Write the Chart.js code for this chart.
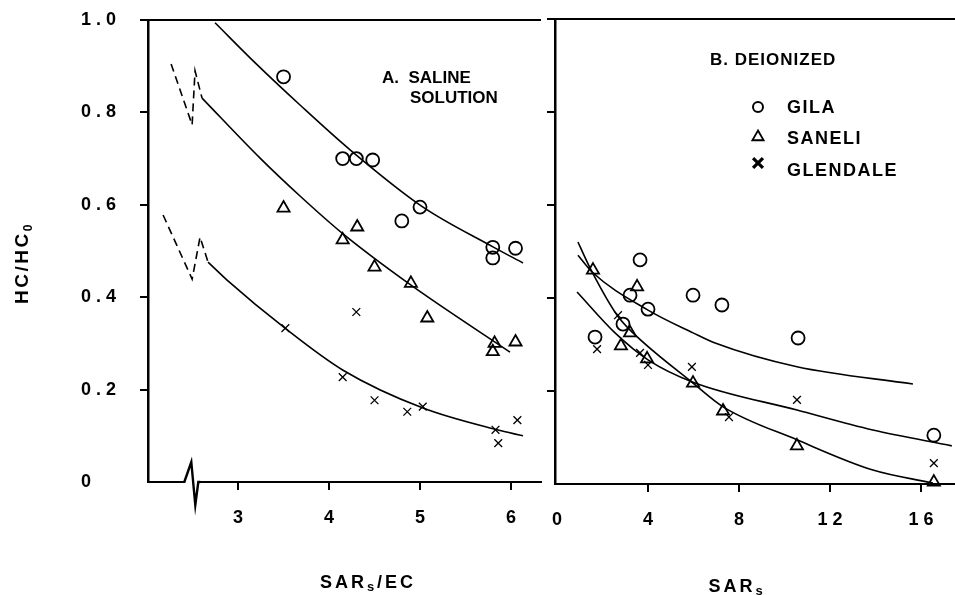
<!DOCTYPE html>
<html>
<head>
<meta charset="utf-8">
<script src="https://cdn.jsdelivr.net/npm/chart.js@4.4.0/dist/chart.umd.min.js"></script>
<style>
html, body { margin: 0; padding: 0; background: #fff; }
#wrap { position: relative; width: 955px; height: 595px; overflow: hidden; }
#left { position: absolute; left: 0; top: 0; }
#right { position: absolute; left: 530px; top: 0; }
</style>
</head>
<body>
<div id="wrap">
  <canvas id="left" width="548" height="595"></canvas>
  <canvas id="right" width="425" height="595"></canvas>
</div>
<script>
// ---- shared y axis ----
const yTicks = [0, 0.2, 0.4, 0.6, 0.8, 1.0];
const yTickLabels = ['0', '0.2', '0.4', '0.6', '0.8', '1.0'];

// ---- A. saline solution, x = SARs/EC ----
const salTicksX = [3, 4, 5, 6];
const gilaSalX = [3.5, 4.15, 4.3, 4.48, 4.8, 5.0, 5.8, 5.8, 6.05];
const gilaSalY = [0.877, 0.70, 0.70, 0.697, 0.565, 0.595, 0.508, 0.485, 0.506];
const saneliSalX = [3.5, 4.15, 4.31, 4.5, 4.9, 5.08, 5.82, 5.8, 6.05];
const saneliSalY = [0.593, 0.524, 0.552, 0.465, 0.43, 0.355, 0.30, 0.282, 0.303];
const glendaleSalX = [3.52, 4.3, 4.15, 4.5, 4.86, 5.03, 5.83, 5.86, 6.07];
const glendaleSalY = [0.333, 0.368, 0.227, 0.177, 0.152, 0.163, 0.113, 0.084, 0.134];

// fitted curves
const gilaSalFitX = [2.747, 3.2, 3.681, 4.231, 5.033, 5.802, 6.132];
const gilaSalFitY = [0.994, 0.905, 0.816, 0.719, 0.595, 0.509, 0.474];
const saneliSalBreakX = [2.264, 2.495, 2.527, 2.604];
const saneliSalBreakY = [0.905, 0.773, 0.890, 0.831];
const saneliSalFitX = [2.604, 3.242, 3.681, 4.154, 4.901, 5.989];
const saneliSalFitY = [0.831, 0.701, 0.619, 0.537, 0.426, 0.281];
const glendaleSalBreakX = [2.176, 2.495, 2.582, 2.670];
const glendaleSalBreakY = [0.578, 0.439, 0.530, 0.476];
const glendaleSalFitX = [2.670, 2.879, 3.516, 4.154, 5.033, 5.846, 6.132];
const glendaleSalFitY = [0.476, 0.437, 0.333, 0.242, 0.160, 0.113, 0.100];
const salAxisBreakX = 2.42;

// ---- B. deionized, x = SARs ----
const deiTicksX = [0, 4, 8, 12, 16];
const deiTickLabels = ['0', '4', '8', '12', '16'];
const gilaDeiX = [1.67, 3.21, 3.65, 2.90, 4.0, 5.98, 7.25, 10.6, 16.57];
const gilaDeiY = [0.316, 0.406, 0.482, 0.344, 0.376, 0.406, 0.385, 0.314, 0.105];
const saneliDeiX = [1.58, 3.52, 3.21, 2.81, 3.96, 5.98, 7.30, 10.55, 16.57];
const saneliDeiY = [0.46, 0.424, 0.325, 0.297, 0.269, 0.217, 0.157, 0.082, 0.004];
const glendaleDeiX = [1.76, 2.68, 3.65, 4.0, 5.93, 7.56, 10.55, 16.57];
const glendaleDeiY = [0.29, 0.363, 0.282, 0.256, 0.252, 0.144, 0.181, 0.045];

const gilaDeiFitX = [0.92, 1.54, 4.0, 5.98, 6.95, 10.55, 15.65];
const gilaDeiFitY = [0.492, 0.456, 0.374, 0.325, 0.303, 0.252, 0.215];
const saneliDeiFitX = [0.92, 1.54, 2.64, 3.34, 5.98, 7.30, 10.55, 13.89, 16.53];
const saneliDeiFitY = [0.520, 0.456, 0.363, 0.325, 0.217, 0.166, 0.095, 0.030, 0.002];
const glendaleDeiFitX = [0.88, 2.55, 4.0, 5.98, 10.55, 13.89, 17.36];
const glendaleDeiFitY = [0.413, 0.325, 0.267, 0.219, 0.159, 0.116, 0.082];

const legendLabels = ['GILA', 'SANELI', 'GLENDALE'];
const legendStyles = ['circle', 'triangle', 'crossRot'];

const FONT = '"Liberation Sans", Arial, sans-serif';
Chart.defaults.font.family = FONT;
Chart.defaults.font.weight = 'bold';
Chart.defaults.color = '#000';

function pts(xs, ys) {
    return xs.map((x, i) => ({ x: x, y: ys[i] }));
}

function markers(xs, ys, style, r, bw) {
    return {
        data: pts(xs, ys),
        pointStyle: style,
        pointRadius: r,
        pointBorderWidth: bw,
        borderColor: '#000',
        backgroundColor: 'rgba(0,0,0,0)',
        showLine: false,
        clip: false
    };
}

function fitLine(xs, ys, dash) {
    return {
        data: pts(xs, ys),
        showLine: true,
        pointRadius: 0,
        borderColor: '#000',
        borderWidth: 1.6,
        borderDash: dash || [],
        cubicInterpolationMode: dash ? 'default' : 'monotone',
        tension: 0,
        fill: false,
        clip: false
    };
}

function setSpacing(ctx, px) {
    if ('letterSpacing' in ctx) ctx.letterSpacing = px + 'px';
}

// text made of parts with their own size (for subscripts)
function richText(ctx, parts, x, y, align, spacing) {
    ctx.save();
    setSpacing(ctx, spacing);
    ctx.fillStyle = '#000';
    ctx.textAlign = 'left';
    ctx.textBaseline = 'alphabetic';
    let total = 0;
    parts.forEach(p => {
        ctx.font = 'bold ' + p.size + 'px ' + FONT;
        p.w = ctx.measureText(p.t).width;
        total += p.w;
    });
    let cx = align === 'center' ? x - total / 2 : x;
    parts.forEach(p => {
        ctx.font = 'bold ' + p.size + 'px ' + FONT;
        ctx.fillText(p.t, cx, y + (p.dy || 0));
        cx += p.w;
    });
    ctx.restore();
}

function topLine(chart) {
    const { ctx, chartArea: a } = chart;
    ctx.save();
    ctx.strokeStyle = '#000';
    ctx.lineWidth = 2;
    ctx.beginPath();
    ctx.moveTo(a.left - 1, a.top);
    ctx.lineTo(a.right, a.top);
    ctx.stroke();
    ctx.restore();
}

const noZero = c => (c.tick && c.tick.value === 0) ? 'rgba(0,0,0,0)' : '#000';

function axisX(min, max, ticks, height, labelFn) {
    return {
        type: 'linear', min: min, max: max,
        afterBuildTicks: s => { s.ticks = ticks.map(v => ({ value: v })); },
        afterFit: s => { s.height = height; s.paddingLeft = 0; s.paddingRight = 0; },
        grid: { drawOnChartArea: false, drawTicks: true, tickLength: 8, color: noZero, lineWidth: 2 },
        border: { display: true, color: '#000', width: 2 },
        ticks: { autoSkip: false, maxRotation: 0, padding: 17, labelOffset: 2.5, font: { size: 18, weight: 'bold' }, callback: labelFn }
    };
}

function axisY(width, showLabels) {
    return {
        type: 'linear', min: 0, max: 1,
        afterBuildTicks: s => { s.ticks = yTicks.map(v => ({ value: v })); },
        afterFit: s => { s.width = width; s.paddingTop = 0; s.paddingBottom = 0; },
        grid: { drawOnChartArea: false, drawTicks: true, tickLength: 8, color: noZero, lineWidth: 2 },
        border: { display: true, color: '#000', width: 2.5 },
        ticks: { display: showLabels, crossAlign: 'far', autoSkip: false, font: { size: 18, weight: 'bold' },
                 callback: (v, i) => yTickLabels[i] }
    };
}

function drawPanelA(chart) {
    const { ctx, chartArea: a, scales } = chart;
    topLine(chart);
    // broken x axis
    const bx = scales.x.getPixelForValue(salAxisBreakX), b = a.bottom;
    ctx.save();
    ctx.fillStyle = '#fff';
    ctx.fillRect(bx, b - 2, 14, 4);
    ctx.strokeStyle = '#000';
    ctx.lineWidth = 2.4;
    ctx.beginPath();
    ctx.moveTo(bx - 1, b);
    ctx.lineTo(bx + 6, b - 20);
    ctx.lineTo(bx + 10, b + 23);
    ctx.lineTo(bx + 13, b);
    ctx.lineTo(bx + 15, b);
    ctx.stroke();
    ctx.restore();

    ctx.save();
    ctx.translate(21, 263);
    ctx.rotate(-Math.PI / 2);
    richText(ctx, [{ t: 'HC/HC', size: 19 }, { t: '0', size: 12, dy: 4 }], 0, 7, 'center', 2.5);
    ctx.restore();

    richText(ctx, [{ t: 'SAR', size: 18 }, { t: 's', size: 13, dy: 3 }, { t: '/EC', size: 18 }], 368, 588, 'center', 3);
    richText(ctx, [{ t: 'A.  SALINE', size: 17 }], 382, 83, 'left', 0);
    richText(ctx, [{ t: 'SOLUTION', size: 17 }], 410, 103, 'left', 0);
}

function drawPanelB(chart) {
    const { ctx } = chart;
    const off = 530;
    topLine(chart);
    richText(ctx, [{ t: 'SAR', size: 18 }, { t: 's', size: 13, dy: 3 }], 737 - off, 592, 'center', 3);
    richText(ctx, [{ t: 'B. DEIONIZED', size: 17 }], 710 - off, 65, 'left', 1);

    const symY = [107, 137, 163];
    const textY = [113, 144, 176];
    const symR = [5, 6.5, 7];
    const symW = [2, 1.8, 3.2];
    legendLabels.forEach((lab, i) => {
        ctx.save();
        ctx.strokeStyle = '#000';
        ctx.fillStyle = 'rgba(0,0,0,0)';
        ctx.lineWidth = symW[i];
        Chart.helpers.drawPoint(ctx, { pointStyle: legendStyles[i], radius: symR[i], borderWidth: symW[i], rotation: 0 }, 758 - off, symY[i]);
        ctx.restore();
        richText(ctx, [{ t: lab, size: 18 }], 787 - off, textY[i], 'left', 1.5);
    });
}

function spacingPlugin(id, draw) {
    return {
        id: id,
        beforeDraw(chart) { setSpacing(chart.ctx, 5); },
        afterDraw(chart) { draw(chart); }
    };
}

const leftChart = new Chart(document.getElementById('left').getContext('2d'), {
    type: 'scatter',
    data: {
        datasets: [
            markers(gilaSalX, gilaSalY, 'circle', 6.5, 1.8),
            markers(saneliSalX, saneliSalY, 'triangle', 7, 1.8),
            markers(glendaleSalX, glendaleSalY, 'crossRot', 5.5, 1.3),
            fitLine(gilaSalFitX, gilaSalFitY),
            fitLine(saneliSalFitX, saneliSalFitY),
            fitLine(glendaleSalFitX, glendaleSalFitY),
            fitLine(saneliSalBreakX, saneliSalBreakY, [8, 5]),
            fitLine(glendaleSalBreakX, glendaleSalBreakY, [8, 5])
        ]
    },
    options: {
        responsive: false,
        animation: false,
        events: [],
        layout: { autoPadding: false, padding: { left: 81, top: 20, right: 7, bottom: 0 } },
        plugins: { legend: { display: false }, tooltip: { enabled: false } },
        scales: {
            x: axisX(2.01, 6.33, salTicksX, 113, v => String(v)),
            y: axisY(67, true)
        }
    },
    plugins: [spacingPlugin('panelA', drawPanelA)]
});

const rightChart = new Chart(document.getElementById('right').getContext('2d'), {
    type: 'scatter',
    data: {
        datasets: [
            markers(gilaDeiX, gilaDeiY, 'circle', 6.5, 1.8),
            markers(saneliDeiX, saneliDeiY, 'triangle', 7, 1.8),
            markers(glendaleDeiX, glendaleDeiY, 'crossRot', 5.5, 1.3),
            fitLine(gilaDeiFitX, gilaDeiFitY),
            fitLine(saneliDeiFitX, saneliDeiFitY),
            fitLine(glendaleDeiFitX, glendaleDeiFitY)
        ]
    },
    options: {
        responsive: false,
        animation: false,
        events: [],
        layout: { autoPadding: false, padding: { left: 0, top: 19, right: 0, bottom: 0 } },
        plugins: { legend: { display: false }, tooltip: { enabled: false } },
        scales: {
            x: axisX(-0.09, 17.5, deiTicksX, 111, (v, i) => deiTickLabels[i]),
            y: axisY(25, false)
        }
    },
    plugins: [spacingPlugin('panelB', drawPanelB)]
});
</script>
</body>
</html>
